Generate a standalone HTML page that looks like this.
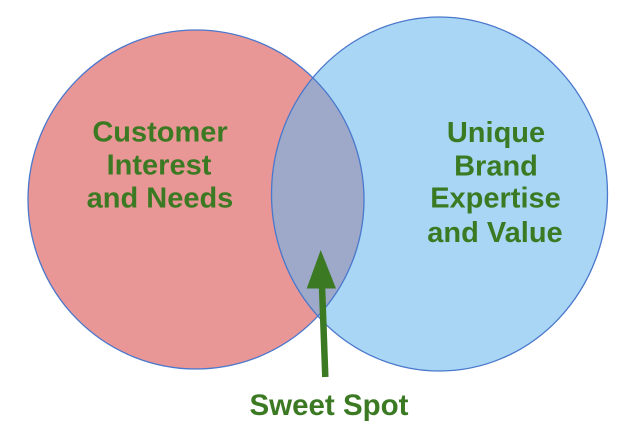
<!DOCTYPE html>
<html>
<head>
<meta charset="utf-8">
<style>
  html, body { margin: 0; padding: 0; background: #ffffff; }
  svg { display: block; }
  text { font-family: "Liberation Sans", Arial, sans-serif; font-weight: bold; fill: #3B7A23; }
</style>
</head>
<body>
<svg width="634" height="431" viewBox="0 0 634 431" xmlns="http://www.w3.org/2000/svg">
  <defs>
    <clipPath id="clipL">
      <ellipse cx="196" cy="199.5" rx="168" ry="169.5"/>
    </clipPath>
  </defs>
  <rect width="634" height="431" fill="#ffffff"/>
  <!-- left circle -->
  <ellipse cx="196" cy="199.5" rx="168" ry="169.5" fill="#E99696"/>
  <!-- right circle -->
  <ellipse cx="439.5" cy="194" rx="168" ry="177" fill="#A9D6F5"/>
  <!-- intersection -->
  <ellipse cx="439.5" cy="194" rx="168" ry="177" fill="#9EA8C8" clip-path="url(#clipL)"/>
  <!-- outlines -->
  <ellipse cx="196" cy="199.5" rx="168" ry="169.5" fill="none" stroke="#4A78CC" stroke-width="1.3"/>
  <ellipse cx="439.5" cy="194" rx="168" ry="177" fill="none" stroke="#4A78CC" stroke-width="1.3"/>

  <!-- left label -->
  <g font-size="29" text-anchor="middle">
    <text x="160" y="141.5">Customer</text>
    <text x="159" y="174.5">Interest</text>
    <text x="160" y="207.5">and Needs</text>
  </g>

  <!-- right label -->
  <g font-size="29" text-anchor="middle">
    <text x="496" y="142">Unique</text>
    <text x="496" y="175.5">Brand</text>
    <text x="495.5" y="207.5">Expertise</text>
    <text x="495" y="242">and Value</text>
  </g>

  <!-- arrow -->
  <line x1="322" y1="286" x2="325.3" y2="377" stroke="#3B7A23" stroke-width="6.5"/>
  <polygon points="320.7,250 336,288.5 306.7,288.5" fill="#3B7A23"/>

  <!-- sweet spot -->
  <text x="329" y="415" font-size="29.5" text-anchor="middle">Sweet Spot</text>
</svg>
</body>
</html>
